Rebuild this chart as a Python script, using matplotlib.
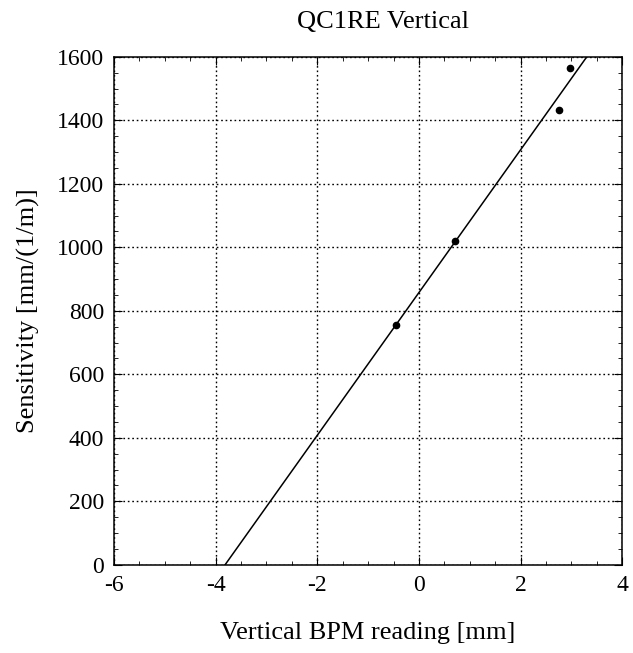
import numpy as np
import matplotlib.pyplot as plt
from matplotlib.ticker import MultipleLocator

# BPM reading [mm] and sensitivity [mm/(1/m)]
bpm_reading = np.array([-0.46, 0.70, 2.76, 2.97])
sensitivity = np.array([754, 1019, 1434, 1565])

plt.rcParams['font.family'] = ['Liberation Serif', 'DejaVu Serif']
plt.rcParams['axes.unicode_minus'] = False

# straight-line fit through the points
slope, icpt = np.polyfit(bpm_reading, sensitivity, 1)
xfit = np.array([-icpt / slope, (1600 - icpt) / slope])
yfit = slope * xfit + icpt

fig = plt.figure(figsize=(6.33, 6.53), dpi=100)
ax = fig.add_axes([0.180, 0.135, 0.803, 0.778])

ax.plot(xfit, yfit, color='black', linewidth=1.1)
ax.plot(bpm_reading, sensitivity, 'o', color='black', markersize=4.5)

ax.set_xlim(-6, 4)
ax.set_ylim(0, 1600)
ax.xaxis.set_major_locator(MultipleLocator(2))
ax.xaxis.set_minor_locator(MultipleLocator(0.5))
ax.yaxis.set_major_locator(MultipleLocator(200))
ax.yaxis.set_minor_locator(MultipleLocator(50))
ax.tick_params(which='both', direction='in', top=True, right=True,
               labelsize=17, color='black')
ax.tick_params(which='major', length=6, pad=7)
ax.tick_params(which='minor', length=3)
ax.grid(True, which='major', linestyle=(0, (1.2, 2)), color='black', linewidth=1)
for s in ax.spines.values():
    s.set_linewidth(1.1)

ax.set_title('QC1RE Vertical', fontsize=19, pad=21, x=0.53)
ax.set_xlabel('Vertical BPM reading [mm]', fontsize=19, labelpad=19)
ax.set_ylabel('Sensitivity [mm/(1/m)]', fontsize=19, labelpad=12)

fig.savefig('out.png', dpi=100)
